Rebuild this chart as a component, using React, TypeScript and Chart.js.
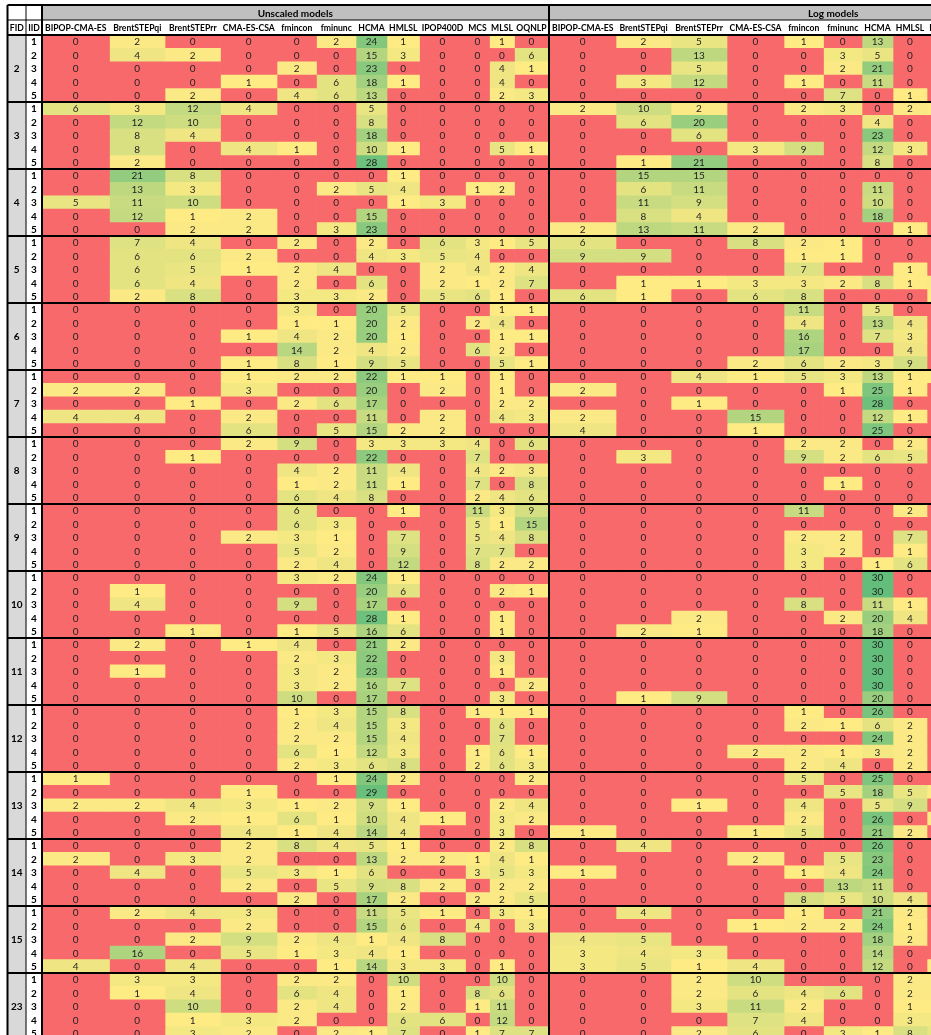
import React, { useEffect, useRef } from "react";
import { Chart, registerables } from "chart.js";

Chart.register(...registerables);

// ---------------- DATA ----------------
const fids = [2, 3, 4, 5, 6, 7, 8, 9, 10, 11, 12, 13, 14, 15, 23];
const iids = [1, 2, 3, 4, 5];

const unscaledModels = ["BIPOP-CMA-ES", "BrentSTEPqi", "BrentSTEPrr", "CMA-ES-CSA", "fmincon", "fminunc", "HCMA", "HMLSL", "IPOP400D", "MCS", "MLSL", "OQNLP"];
const logModels = ["BIPOP-CMA-ES", "BrentSTEPqi", "BrentSTEPrr", "CMA-ES-CSA", "fmincon", "fminunc", "HCMA", "HMLSL", "IPOP400D"];

const groupTitles = ["Unscaled models", "Log models"];

// rows: FID x IID (5 per FID), columns follow unscaledModels
const unscaledCounts: number[][] = [
  // FID 2
  [0, 2, 0, 0, 0, 2, 24, 1, 0, 0, 1, 0],
  [0, 4, 2, 0, 0, 0, 15, 3, 0, 0, 0, 6],
  [0, 0, 0, 0, 2, 0, 23, 0, 0, 0, 4, 1],
  [0, 0, 0, 1, 0, 6, 18, 1, 0, 0, 4, 0],
  [0, 0, 2, 0, 4, 6, 13, 0, 0, 0, 2, 3],
  // FID 3
  [6, 3, 12, 4, 0, 0, 5, 0, 0, 0, 0, 0],
  [0, 12, 10, 0, 0, 0, 8, 0, 0, 0, 0, 0],
  [0, 8, 4, 0, 0, 0, 18, 0, 0, 0, 0, 0],
  [0, 8, 0, 4, 1, 0, 10, 1, 0, 0, 5, 1],
  [0, 2, 0, 0, 0, 0, 28, 0, 0, 0, 0, 0],
  // FID 4
  [0, 21, 8, 0, 0, 0, 0, 1, 0, 0, 0, 0],
  [0, 13, 3, 0, 0, 2, 5, 4, 0, 1, 2, 0],
  [5, 11, 10, 0, 0, 0, 0, 1, 3, 0, 0, 0],
  [0, 12, 1, 2, 0, 0, 15, 0, 0, 0, 0, 0],
  [0, 0, 2, 2, 0, 3, 23, 0, 0, 0, 0, 0],
  // FID 5
  [0, 7, 4, 0, 2, 0, 2, 0, 6, 3, 1, 5],
  [0, 6, 6, 2, 0, 0, 4, 3, 5, 4, 0, 0],
  [0, 6, 5, 1, 2, 4, 0, 0, 2, 4, 2, 4],
  [0, 6, 4, 0, 2, 0, 6, 0, 2, 1, 2, 7],
  [0, 2, 8, 0, 3, 3, 2, 0, 5, 6, 1, 0],
  // FID 6
  [0, 0, 0, 0, 3, 0, 20, 5, 0, 0, 1, 1],
  [0, 0, 0, 0, 1, 1, 20, 2, 0, 2, 4, 0],
  [0, 0, 0, 1, 4, 2, 20, 1, 0, 0, 1, 1],
  [0, 0, 0, 0, 14, 2, 4, 2, 0, 6, 2, 0],
  [0, 0, 0, 1, 8, 1, 9, 5, 0, 0, 5, 1],
  // FID 7
  [0, 0, 0, 1, 2, 2, 22, 1, 1, 0, 1, 0],
  [2, 2, 0, 3, 0, 0, 20, 0, 2, 0, 1, 0],
  [0, 0, 1, 0, 2, 6, 17, 0, 0, 0, 2, 2],
  [4, 4, 0, 2, 0, 0, 11, 0, 2, 0, 4, 3],
  [0, 0, 0, 6, 0, 5, 15, 2, 2, 0, 0, 0],
  // FID 8
  [0, 0, 0, 2, 9, 0, 3, 3, 3, 4, 0, 6],
  [0, 0, 1, 0, 0, 0, 22, 0, 0, 7, 0, 0],
  [0, 0, 0, 0, 4, 2, 11, 4, 0, 4, 2, 3],
  [0, 0, 0, 0, 1, 2, 11, 1, 0, 7, 0, 8],
  [0, 0, 0, 0, 6, 4, 8, 0, 0, 2, 4, 6],
  // FID 9
  [0, 0, 0, 0, 6, 0, 0, 1, 0, 11, 3, 9],
  [0, 0, 0, 0, 6, 3, 0, 0, 0, 5, 1, 15],
  [0, 0, 0, 2, 3, 1, 0, 7, 0, 5, 4, 8],
  [0, 0, 0, 0, 5, 2, 0, 9, 0, 7, 7, 0],
  [0, 0, 0, 0, 2, 4, 0, 12, 0, 8, 2, 2],
  // FID 10
  [0, 0, 0, 0, 3, 2, 24, 1, 0, 0, 0, 0],
  [0, 1, 0, 0, 0, 0, 20, 6, 0, 0, 2, 1],
  [0, 4, 0, 0, 9, 0, 17, 0, 0, 0, 0, 0],
  [0, 0, 0, 0, 0, 0, 28, 1, 0, 0, 1, 0],
  [0, 0, 1, 0, 1, 5, 16, 6, 0, 0, 1, 0],
  // FID 11
  [0, 2, 0, 1, 4, 0, 21, 2, 0, 0, 0, 0],
  [0, 0, 0, 0, 2, 3, 22, 0, 0, 0, 3, 0],
  [0, 1, 0, 0, 3, 2, 23, 0, 0, 0, 1, 0],
  [0, 0, 0, 0, 3, 2, 16, 7, 0, 0, 0, 2],
  [0, 0, 0, 0, 10, 0, 17, 0, 0, 0, 3, 0],
  // FID 12
  [0, 0, 0, 0, 1, 3, 15, 8, 0, 1, 1, 1],
  [0, 0, 0, 0, 2, 4, 15, 3, 0, 0, 6, 0],
  [0, 0, 0, 0, 2, 2, 15, 4, 0, 0, 7, 0],
  [0, 0, 0, 0, 6, 1, 12, 3, 0, 1, 6, 1],
  [0, 0, 0, 0, 2, 3, 6, 8, 0, 2, 6, 3],
  // FID 13
  [1, 0, 0, 0, 0, 1, 24, 2, 0, 0, 0, 2],
  [0, 0, 0, 1, 0, 0, 29, 0, 0, 0, 0, 0],
  [2, 2, 4, 3, 1, 2, 9, 1, 0, 0, 2, 4],
  [0, 0, 2, 1, 6, 1, 10, 4, 1, 0, 3, 2],
  [0, 0, 0, 4, 1, 4, 14, 4, 0, 0, 3, 0],
  // FID 14
  [0, 0, 0, 2, 8, 4, 5, 1, 0, 0, 2, 8],
  [2, 0, 3, 2, 0, 0, 13, 2, 2, 1, 4, 1],
  [0, 4, 0, 5, 3, 1, 6, 0, 0, 3, 5, 3],
  [0, 0, 0, 2, 0, 5, 9, 8, 2, 0, 2, 2],
  [0, 0, 0, 0, 2, 0, 17, 2, 0, 2, 2, 5],
  // FID 15
  [0, 2, 4, 3, 0, 0, 11, 5, 1, 0, 3, 1],
  [0, 0, 0, 2, 0, 0, 15, 6, 0, 4, 0, 3],
  [0, 0, 2, 9, 2, 4, 1, 4, 8, 0, 0, 0],
  [0, 16, 0, 5, 1, 3, 4, 1, 0, 0, 0, 0],
  [4, 0, 4, 0, 0, 1, 14, 3, 3, 0, 1, 0],
  // FID 23
  [0, 3, 3, 0, 2, 2, 0, 10, 0, 0, 10, 0],
  [0, 1, 4, 0, 6, 4, 0, 1, 0, 8, 6, 0],
  [0, 0, 10, 0, 2, 4, 0, 2, 0, 1, 11, 0],
  [0, 0, 1, 3, 2, 0, 0, 6, 6, 0, 12, 0],
  [0, 0, 3, 2, 0, 2, 1, 7, 0, 1, 7, 7],
];

// rows: FID x IID, columns follow logModels
const logCounts: number[][] = [
  // FID 2
  [0, 2, 5, 0, 1, 0, 13, 0, 0],
  [0, 0, 13, 0, 0, 3, 5, 0, 0],
  [0, 0, 5, 0, 0, 2, 21, 0, 0],
  [0, 3, 12, 0, 1, 0, 11, 0, 0],
  [0, 0, 0, 0, 0, 7, 0, 1, 0],
  // FID 3
  [2, 10, 2, 0, 2, 3, 0, 2, 1],
  [0, 6, 20, 0, 0, 0, 4, 0, 0],
  [0, 0, 6, 0, 0, 0, 23, 0, 0],
  [0, 0, 0, 3, 9, 0, 12, 3, 0],
  [0, 1, 21, 0, 0, 0, 8, 0, 0],
  // FID 4
  [0, 15, 15, 0, 0, 0, 0, 0, 0],
  [0, 6, 11, 0, 0, 0, 11, 0, 0],
  [0, 11, 9, 0, 0, 0, 10, 0, 0],
  [0, 8, 4, 0, 0, 0, 18, 0, 0],
  [2, 13, 11, 2, 0, 0, 0, 1, 0],
  // FID 5
  [6, 0, 0, 8, 2, 1, 0, 0, 0],
  [9, 9, 0, 0, 1, 1, 0, 0, 0],
  [0, 0, 0, 0, 7, 0, 0, 1, 0],
  [0, 1, 1, 3, 3, 2, 8, 1, 2],
  [6, 1, 0, 6, 8, 0, 0, 0, 1],
  // FID 6
  [0, 0, 0, 0, 11, 0, 5, 0, 0],
  [0, 0, 0, 0, 4, 0, 13, 4, 0],
  [0, 0, 0, 0, 16, 0, 7, 3, 0],
  [0, 0, 0, 0, 17, 0, 0, 4, 0],
  [0, 0, 0, 2, 6, 2, 3, 9, 0],
  // FID 7
  [0, 0, 4, 1, 5, 3, 13, 1, 1],
  [2, 0, 0, 0, 0, 1, 25, 1, 0],
  [0, 0, 1, 0, 0, 0, 28, 0, 0],
  [2, 0, 0, 15, 0, 0, 12, 1, 0],
  [4, 0, 0, 1, 0, 0, 25, 0, 0],
  // FID 8
  [0, 0, 0, 0, 2, 2, 0, 2, 0],
  [0, 3, 0, 0, 9, 2, 6, 5, 0],
  [0, 0, 0, 0, 0, 0, 0, 0, 0],
  [0, 0, 0, 0, 0, 1, 0, 0, 0],
  [0, 0, 0, 0, 0, 0, 0, 0, 0],
  // FID 9
  [0, 0, 0, 0, 11, 0, 0, 2, 0],
  [0, 0, 0, 0, 0, 0, 0, 0, 0],
  [0, 0, 0, 0, 2, 2, 0, 7, 0],
  [0, 0, 0, 0, 3, 2, 0, 1, 0],
  [0, 0, 0, 0, 3, 0, 1, 6, 0],
  // FID 10
  [0, 0, 0, 0, 0, 0, 30, 0, 0],
  [0, 0, 0, 0, 0, 0, 30, 0, 0],
  [0, 0, 0, 0, 8, 0, 11, 1, 0],
  [0, 0, 2, 0, 0, 2, 20, 4, 0],
  [0, 2, 1, 0, 0, 0, 18, 0, 0],
  // FID 11
  [0, 0, 0, 0, 0, 0, 30, 0, 0],
  [0, 0, 0, 0, 0, 0, 30, 0, 0],
  [0, 0, 0, 0, 0, 0, 30, 0, 0],
  [0, 0, 0, 0, 0, 0, 30, 0, 0],
  [0, 1, 9, 0, 0, 0, 20, 0, 0],
  // FID 12
  [0, 0, 0, 0, 1, 0, 26, 0, 0],
  [0, 0, 0, 0, 2, 1, 6, 2, 0],
  [0, 0, 0, 0, 0, 0, 24, 2, 0],
  [0, 0, 0, 2, 2, 1, 3, 2, 0],
  [0, 0, 0, 0, 2, 4, 0, 2, 0],
  // FID 13
  [0, 0, 0, 0, 5, 0, 25, 0, 0],
  [0, 0, 0, 0, 0, 5, 18, 5, 1],
  [0, 0, 1, 0, 4, 0, 5, 9, 0],
  [0, 0, 0, 0, 2, 0, 26, 0, 1],
  [1, 0, 0, 1, 5, 0, 21, 2, 0],
  // FID 14
  [0, 4, 0, 0, 0, 0, 26, 0, 0],
  [0, 0, 0, 2, 0, 5, 23, 0, 0],
  [1, 0, 0, 0, 1, 4, 24, 0, 0],
  [0, 0, 0, 0, 0, 13, 11, 0, 0],
  [0, 0, 0, 0, 8, 5, 10, 4, 0],
  // FID 15
  [0, 4, 0, 0, 1, 0, 21, 2, 0],
  [0, 0, 0, 1, 2, 2, 24, 1, 0],
  [4, 5, 0, 0, 0, 0, 18, 2, 0],
  [3, 4, 3, 0, 0, 0, 14, 0, 0],
  [3, 5, 1, 4, 0, 0, 12, 0, 1],
  // FID 23
  [0, 0, 2, 10, 0, 0, 0, 2, 2],
  [0, 0, 2, 6, 4, 6, 0, 2, 2],
  [0, 0, 3, 11, 2, 0, 0, 1, 1],
  [0, 0, 0, 7, 4, 0, 0, 3, 3],
  [0, 0, 2, 6, 0, 3, 1, 8, 5],
];

// ---------------- LAYOUT / STYLE ----------------
const CANVAS_W = 1120;
const CANVAS_H = 1040;
const TABLE_LEFT = 7.5;
const HEADER_TOP = 5;
const HEADER_ROW1_H = 15;
const HEADER_ROW2_H = 15;
const FID_W = 18.5;
const IID_W = 16;
const unscaledWidths = [67.5, 55.5, 55.5, 56.5, 39.5, 39.5, 31, 32.5, 46, 24, 25, 34];
const GROUP_GAP = 1;
const logWidths = [66.5, 55, 56, 57, 39.5, 38.5, 31, 34, 46];
const LOG_GROUP_SPAN = 567.5;

const RED = [248, 105, 107];
const YELLOW = [255, 235, 132];
const GREEN = [99, 190, 123];
const SCALE_MAX = 30;

const FONT = "Lato, 'Open Sans', 'DejaVu Sans', sans-serif";

function cellColor(v: number): string {
  if (v <= 0) return `rgb(${RED.join(",")})`;
  const t = Math.min(1, Math.max(0, (v - 1) / (SCALE_MAX - 1)));
  const c = YELLOW.map((y, i) => Math.round(y + (GREEN[i] - y) * t));
  return `rgb(${c.join(",")})`;
}

export default function App() {
  const ref = useRef<HTMLCanvasElement | null>(null);

  useEffect(() => {
    const canvas = ref.current;
    if (!canvas) return;

    const rowLabels: string[] = [];
    const rowFid: number[] = [];
    const rowIid: number[] = [];
    fids.forEach((f) =>
      iids.forEach((i) => {
        rowLabels.push(`${f}-${i}`);
        rowFid.push(f);
        rowIid.push(i);
      })
    );

    type Col = { start: number; end: number; name: string; values: number[] | null; kind: string };
    const cols: Col[] = [];
    let x = TABLE_LEFT;
    cols.push({ start: x, end: x + FID_W, name: "FID", values: null, kind: "fid" });
    x += FID_W;
    cols.push({ start: x, end: x + IID_W, name: "IID", values: null, kind: "iid" });
    x += IID_W;
    const unscaledStart = x;
    unscaledModels.forEach((m, ci) => {
      cols.push({ start: x, end: x + unscaledWidths[ci], name: m, values: unscaledCounts.map((r) => r[ci]), kind: "val" });
      x += unscaledWidths[ci];
    });
    const unscaledEnd = x;
    x += GROUP_GAP;
    const logStart = x;
    logModels.forEach((m, ci) => {
      cols.push({ start: x, end: x + logWidths[ci], name: m, values: logCounts.map((r) => r[ci]), kind: "val" });
      x += logWidths[ci];
    });
    const logEnd = logStart + LOG_GROUP_SPAN;

    const datasets: any[] = cols.map((c) => {
      let bg: string[];
      let texts: (string | null)[];
      if (c.kind === "fid") {
        bg = rowLabels.map(() => "#D9D9D9");
        texts = rowFid.map((f, i) => (i % 5 === 2 ? String(f) : null));
      } else if (c.kind === "iid") {
        bg = rowLabels.map(() => "#FFFFFF");
        texts = rowIid.map((v) => String(v));
      } else {
        bg = (c.values as number[]).map(cellColor);
        texts = (c.values as number[]).map((v) => String(v));
      }
      return {
        label: c.name,
        data: rowLabels.map(() => [c.start, c.end]),
        backgroundColor: bg,
        borderWidth: 0,
        grouped: false,
        barPercentage: 1,
        categoryPercentage: 1,
        texts,
        kind: c.kind,
      };
    });

    const textPlugin = {
      id: "cellText",
      afterDatasetsDraw(chart: any) {
        const ctx = chart.ctx;
        ctx.save();
        ctx.textAlign = "center";
        ctx.textBaseline = "middle";
        chart.data.datasets.forEach((ds: any, di: number) => {
          const meta = chart.getDatasetMeta(di);
          ctx.font = ds.kind === "val" ? `10px ${FONT}` : `bold 10px ${FONT}`;
          ctx.fillStyle = ds.kind === "val" ? "#1f1f1f" : "#000000";
          meta.data.forEach((el: any, i: number) => {
            const t = ds.texts[i];
            if (t == null) return;
            const cx = (el.x + el.base) / 2;
            ctx.fillText(t, cx, el.y + 0.5);
          });
        });
        ctx.restore();
      },
    };

    const framePlugin = {
      id: "frame",
      afterDraw(chart: any) {
        const ctx = chart.ctx;
        const xs = chart.scales.x;
        const ys = chart.scales.y;
        const area = chart.chartArea;
        const nRows = rowLabels.length;
        const band = (area.bottom - area.top) / nRows;
        const px = (v: number) => xs.getPixelForValue(v);
        const right = CANVAS_W;
        const top = HEADER_TOP;
        const mid = HEADER_TOP + HEADER_ROW1_H;
        const dataTop = area.top;

        ctx.save();
        ctx.fillStyle = "#FFFFFF";
        ctx.fillRect(px(TABLE_LEFT), top, right - px(TABLE_LEFT), dataTop - top);
        ctx.fillStyle = "#BFBFBF";
        ctx.fillRect(px(unscaledStart), top, px(unscaledEnd) - px(unscaledStart), HEADER_ROW1_H);
        ctx.fillRect(px(logStart), top, px(logEnd) - px(logStart), HEADER_ROW1_H);

        ctx.fillStyle = "#000";
        ctx.textAlign = "center";
        ctx.textBaseline = "middle";
        ctx.font = `bold 10px ${FONT}`;
        ctx.fillText(groupTitles[0], (px(unscaledStart) + px(unscaledEnd)) / 2, top + HEADER_ROW1_H / 2 + 1);
        ctx.fillText(groupTitles[1], (px(logStart) + px(logEnd)) / 2, top + HEADER_ROW1_H / 2 + 1);
        ctx.font = `bold 8.6px ${FONT}`;
        cols.forEach((c) => {
          ctx.fillText(c.name, (px(c.start) + px(c.end)) / 2, mid + HEADER_ROW2_H / 2 + 0.5);
        });

        ctx.strokeStyle = "#000";
        const hline = (y: number, x0: number, x1: number, w: number) => {
          ctx.lineWidth = w;
          ctx.beginPath();
          ctx.moveTo(x0, y);
          ctx.lineTo(x1, y);
          ctx.stroke();
        };
        const vline = (xv: number, y0: number, y1: number, w: number) => {
          ctx.lineWidth = w;
          ctx.beginPath();
          ctx.moveTo(xv, y0);
          ctx.lineTo(xv, y1);
          ctx.stroke();
        };
        const L = px(TABLE_LEFT);
        hline(top, L, right, 2);
        hline(mid, L, right, 1);
        for (let k = 0; k <= fids.length; k++) {
          const y = ys.getPixelForValue(k * 5) - band / 2;
          hline(y, L, right, 2);
        }
        const bottom = area.bottom;
        vline(L, top, bottom, 2);
        vline(px(cols[1].start), top, bottom, 1);
        vline(px(cols[2].start), top, bottom, 2);
        vline(px(unscaledEnd) + GROUP_GAP / 2, top, bottom, 2);
        ctx.restore();
      },
    };

    const chart = new Chart(canvas, {
      type: "bar",
      data: { labels: rowLabels, datasets },
      options: {
        indexAxis: "y",
        animation: false,
        responsive: false,
        maintainAspectRatio: false,
        devicePixelRatio: 1,
        events: [],
        layout: { padding: { top: HEADER_TOP + HEADER_ROW1_H + HEADER_ROW2_H, left: 0, right: 0, bottom: 0 } },
        plugins: {
          legend: { display: false },
          tooltip: { enabled: false },
          title: { display: false },
        },
        scales: {
          x: { type: "linear", min: 0, max: CANVAS_W, display: false },
          y: { type: "category", display: false, offset: true, grid: { display: false } },
        },
      } as any,
      plugins: [textPlugin, framePlugin],
    });

    return () => chart.destroy();
  }, []);

  return (
    <div style={{ position: "fixed", left: 0, top: 0, width: 931, height: 1035, overflow: "hidden", background: "#fff" }}>
      <canvas ref={ref} width={CANVAS_W} height={CANVAS_H} style={{ display: "block" }} />
    </div>
  );
}
